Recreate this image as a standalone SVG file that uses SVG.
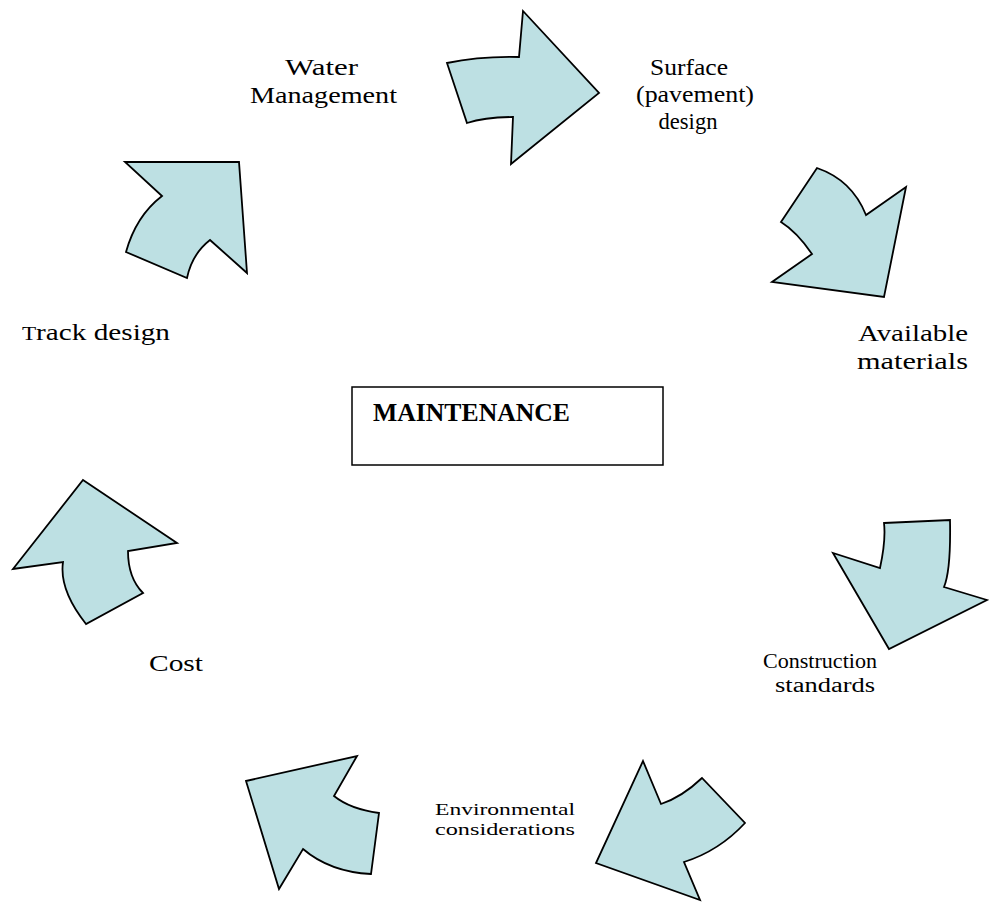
<svg xmlns="http://www.w3.org/2000/svg" width="989" height="902" viewBox="0 0 989 902">
  <style>
    .arrow { fill: #BDE0E3; stroke: #000; stroke-width: 1.8; stroke-linejoin: miter; }
    .lbl { font-family: "Liberation Serif", "Times New Roman", serif; font-size: 24px; fill: #000; text-anchor: middle; }
    .md { font-size: 23px; }
    .sm { font-size: 20px; }
    .xs { font-size: 17px; }
    .title { font-family: "Liberation Serif", "Times New Roman", serif; font-size: 25px; font-weight: bold; fill: #000; }
    .box { fill: #fff; stroke: #000; stroke-width: 1.5; }
  </style>
  <rect width="989" height="902" fill="#fff"/>

  <!-- curved block arrows forming the cycle -->
  <g id="connectors">
    <path id="arrow-water-surface" class="arrow" d="M447,63 Q480,56 519,57 L523,11 L599,93 L511,164 L513,117 Q485,117 467,123 Z"/>
    <path id="arrow-surface-materials" class="arrow" d="M817,168 Q852,180 866,215 L906,187 L884,297 L772,282 L812,254 Q797,232 781,222 Z"/>
    <path id="arrow-materials-construction" class="arrow" d="M884,523 L950,520 Q951,570 944,587 L987,600 L889,649 L833,553 L880,568 Q886,540 884,523 Z"/>
    <path id="arrow-construction-environment" class="arrow" d="M643,761 L661,804 Q682,797 702,778 L745,823 Q719,851 684,862 L700,900 L596,863 Z"/>
    <path id="arrow-environment-cost" class="arrow" d="M246,781 L357,756 L334,796 Q350,809 379,813 L371,874 Q330,872 303,849 L279,889 Z"/>
    <path id="arrow-cost-track" class="arrow" d="M83,480 L177,543 L128,551 Q128,578 143,593 L86,624 Q59,590 63,562 L13,569 Z"/>
    <path id="arrow-track-water" class="arrow" d="M125,162 L239,162 L247,273 L210,240 Q192,254 187,278 L126,252 Q136,216 162,196 Z"/>
  </g>

  <g id="maintenance">
    <rect class="box" x="352" y="387" width="311" height="78"/>
    <text class="title" x="373" y="421" textLength="197" lengthAdjust="spacingAndGlyphs">MAINTENANCE</text>
  </g>

  <g id="water-management">
    <text class="lbl" x="321.5" y="75" textLength="73" lengthAdjust="spacingAndGlyphs">Water</text>
    <text class="lbl" x="323.5" y="103" textLength="147" lengthAdjust="spacingAndGlyphs">Management</text>
  </g>

  <g id="surface-design">
    <text class="lbl md" x="689" y="75" textLength="78" lengthAdjust="spacingAndGlyphs">Surface</text>
    <text class="lbl md" x="695" y="102" textLength="118" lengthAdjust="spacingAndGlyphs">(pavement)</text>
    <text class="lbl md" x="688" y="129" textLength="59" lengthAdjust="spacingAndGlyphs">design</text>
  </g>

  <g id="available-materials">
    <text class="lbl" x="913" y="341" textLength="110" lengthAdjust="spacingAndGlyphs">Available</text>
    <text class="lbl" x="912.5" y="369" textLength="111" lengthAdjust="spacingAndGlyphs">materials</text>
  </g>

  <g id="construction-standards">
    <text class="lbl sm" x="820" y="668" textLength="114" lengthAdjust="spacingAndGlyphs">Construction</text>
    <text class="lbl sm" x="825" y="692" textLength="100" lengthAdjust="spacingAndGlyphs">standards</text>
  </g>

  <g id="environmental-considerations">
    <text class="lbl xs" x="505" y="815" textLength="140" lengthAdjust="spacingAndGlyphs">Environmental</text>
    <text class="lbl xs" x="505" y="835" textLength="140" lengthAdjust="spacingAndGlyphs">considerations</text>
  </g>

  <g id="cost">
    <text class="lbl" x="176" y="671" textLength="54" lengthAdjust="spacingAndGlyphs">Cost</text>
  </g>

  <g id="track-design">
    <text class="lbl" x="96" y="340" textLength="148" lengthAdjust="spacingAndGlyphs"><tspan font-size="19">T</tspan>rack design</text>
  </g>
</svg>
